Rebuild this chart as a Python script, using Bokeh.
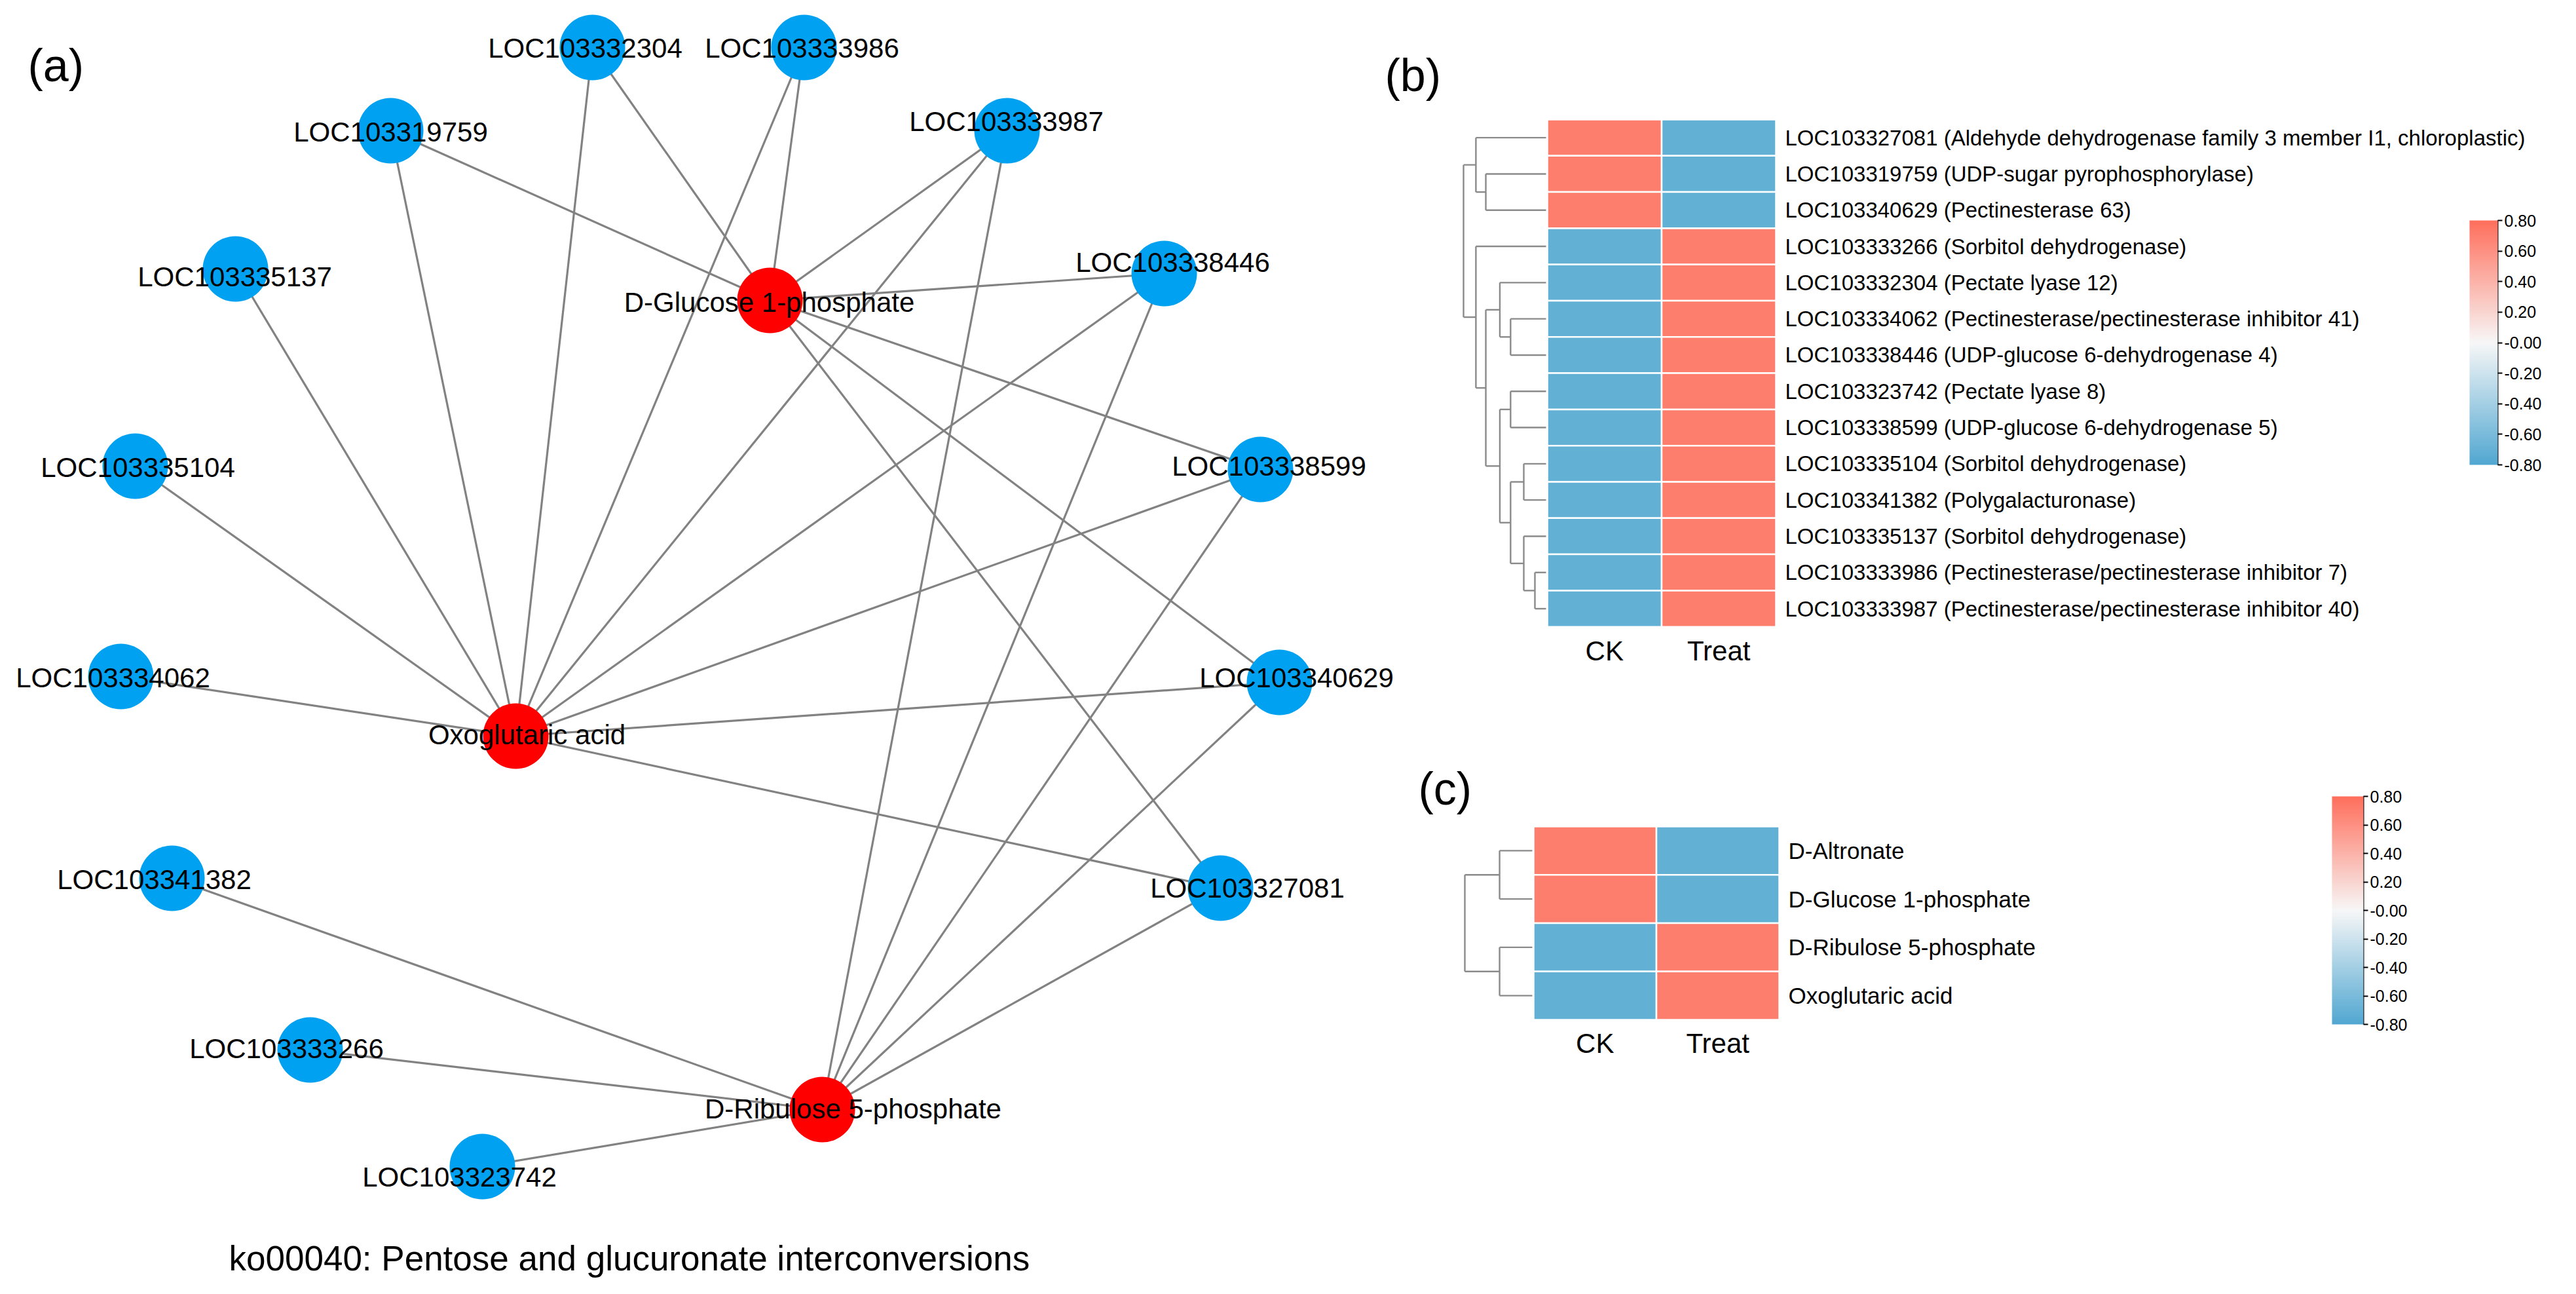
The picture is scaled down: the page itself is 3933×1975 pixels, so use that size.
from bokeh.plotting import figure
from bokeh.models import Range1d, LinearColorMapper, ColorBar, FixedTicker, PrintfTickFormatter, ColumnDataSource
from bokeh.core.properties import value
from bokeh.embed import file_html
from bokeh.resources import INLINE

FONT = "Liberation Sans"

# ---------------- data: network (a) ----------------
gene_names = ["LOC103332304", "LOC103333986", "LOC103319759", "LOC103333987",
              "LOC103335137", "LOC103338446", "LOC103335104", "LOC103338599",
              "LOC103334062", "LOC103340629", "LOC103341382", "LOC103327081",
              "LOC103333266", "LOC103323742"]
# network layout coordinates (layout units)
gene_x = [912, 1235, 604, 1545, 367, 1785, 214, 1932, 192, 1961, 270, 1871, 481, 744]
gene_y = [80, 80, 207, 207, 418, 425, 719, 724, 1040, 1049, 1348, 1363, 1610, 1788]
gene_label_dx = [-11, -3, 0, -1, -1, 13, 4, 13, -12, 26, -27, 41, -36, -35]
gene_label_dy = [1, 1, 2, -14, 12, -17, 2, -5, 2, -7, 2, 0, -2, 16]

metab_names = ["D-Glucose 1-phosphate", "Oxoglutaric acid", "D-Ribulose 5-phosphate"]
metab_x = [1183, 795, 1263]
metab_y = [466, 1131, 1701]
metab_label_dx = [-1, 17, 47]
metab_label_dy = [3, -2, -1]

edge_metab = (["D-Glucose 1-phosphate"] * 8 + ["Oxoglutaric acid"] * 11 + ["D-Ribulose 5-phosphate"] * 8)
edge_gene = ["LOC103332304", "LOC103333986", "LOC103319759", "LOC103333987", "LOC103338446",
             "LOC103338599", "LOC103340629", "LOC103327081",
             "LOC103335137", "LOC103319759", "LOC103332304", "LOC103333986", "LOC103333987",
             "LOC103338446", "LOC103338599", "LOC103335104", "LOC103334062", "LOC103340629",
             "LOC103327081",
             "LOC103333987", "LOC103338446", "LOC103338599", "LOC103340629", "LOC103327081",
             "LOC103341382", "LOC103333266", "LOC103323742"]

network_title = "ko00040: Pentose and glucuronate interconversions"

# ---------------- data: heatmap (b) ----------------
b_rows = ["LOC103327081 (Aldehyde dehydrogenase family 3 member I1, chloroplastic)",
          "LOC103319759 (UDP-sugar pyrophosphorylase)",
          "LOC103340629 (Pectinesterase 63)",
          "LOC103333266 (Sorbitol dehydrogenase)",
          "LOC103332304 (Pectate lyase 12)",
          "LOC103334062 (Pectinesterase/pectinesterase inhibitor 41)",
          "LOC103338446 (UDP-glucose 6-dehydrogenase 4)",
          "LOC103323742 (Pectate lyase 8)",
          "LOC103338599 (UDP-glucose 6-dehydrogenase 5)",
          "LOC103335104 (Sorbitol dehydrogenase)",
          "LOC103341382 (Polygalacturonase)",
          "LOC103335137 (Sorbitol dehydrogenase)",
          "LOC103333986 (Pectinesterase/pectinesterase inhibitor 7)",
          "LOC103333987 (Pectinesterase/pectinesterase inhibitor 40)"]
b_ck = [0.71, 0.71, 0.71, -0.71, -0.71, -0.71, -0.71, -0.71, -0.71, -0.71, -0.71, -0.71, -0.71, -0.71]
b_treat = [-0.71, -0.71, -0.71, 0.71, 0.71, 0.71, 0.71, 0.71, 0.71, 0.71, 0.71, 0.71, 0.71, 0.71]
# row dendrogram: (child a, child b, height); leaves 0..13, merges numbered from 14
b_merges = [(12, 13, 0.135), (11, 14, 0.27), (9, 10, 0.27), (16, 15, 0.43), (7, 8, 0.43),
            (18, 17, 0.56), (5, 6, 0.43), (4, 20, 0.56), (21, 19, 0.73), (3, 22, 0.85),
            (1, 2, 0.73), (0, 24, 0.85), (25, 23, 1.0)]

# ---------------- data: heatmap (c) ----------------
c_rows = ["D-Altronate", "D-Glucose 1-phosphate", "D-Ribulose 5-phosphate", "Oxoglutaric acid"]
c_ck = [0.71, 0.71, -0.71, -0.71]
c_treat = [-0.71, -0.71, 0.71, 0.71]
c_merges = [(0, 1, 0.485), (2, 3, 0.485), (4, 5, 1.0)]

columns = ["CK", "Treat"]
cbar_ticks = [-0.8, -0.6, -0.4, -0.2, 0.0, 0.2, 0.4, 0.6, 0.8]

# ---------------- styles / layout ----------------
W, H = 3900, 1958          # figure size (page margin 8 px)
OX, OY = 8, 8              # figure origin on the page
BLUE_NODE = "#00A1F1"
RED_NODE = "#FF0000"
EDGE_COLOR = "#828282"
DEND_COLOR = "#8A8A8A"


def hexrgb(h):
    return tuple(int(h[i:i + 2], 16) for i in (1, 3, 5))


def ramp(c0, c1, c2, n=256):
    a, b, c = hexrgb(c0), hexrgb(c1), hexrgb(c2)
    out = []
    for i in range(n):
        t = i / (n - 1)
        if t <= 0.5:
            s, p0, q0 = t / 0.5, a, b
        else:
            s, p0, q0 = (t - 0.5) / 0.5, b, c
        out.append("#%02x%02x%02x" % tuple(round(p0[k] + (q0[k] - p0[k]) * s) for k in range(3)))
    return out


palette = ramp("#51A7D1", "#F7F7F7", "#FF6F5C")
mapper = LinearColorMapper(palette=palette, low=-0.8, high=0.8)

# one canvas; the network uses the default ranges, each heatmap its own extra ranges
p = figure(width=W, height=H, x_range=Range1d(OX, OX + W), y_range=Range1d(OY + H, OY),
           output_backend="svg", toolbar_location=None, min_border=0,
           x_axis_type=None, y_axis_type=None)
p.outline_line_color = None
p.grid.visible = False
p.background_fill_color = "white"
p.border_fill_color = "white"


def add_text(x, y, txt, size, align="left", baseline="middle", **kw):
    p.text(x, y, text=txt, text_font=value(FONT), text_font_size=size, text_color="black",
           text_align=align, text_baseline=baseline, **kw)


# ---------------- network ----------------
pos = {n: (x, y) for n, x, y in zip(gene_names, gene_x, gene_y)}
pos.update({n: (x, y) for n, x, y in zip(metab_names, metab_x, metab_y)})
esrc = ColumnDataSource(dict(
    x0=[pos[m][0] for m in edge_metab], y0=[pos[m][1] for m in edge_metab],
    x1=[pos[g][0] for g in edge_gene], y1=[pos[g][1] for g in edge_gene]))
p.segment("x0", "y0", "x1", "y1", source=esrc, line_color=EDGE_COLOR, line_width=3.2)
p.circle(gene_x, gene_y, radius=50, fill_color=BLUE_NODE, line_color=None)
p.circle(metab_x, metab_y, radius=50, fill_color=RED_NODE, line_color=None)
add_text([x + d for x, d in zip(gene_x, gene_label_dx)], [y + d for y, d in zip(gene_y, gene_label_dy)],
         gene_names, "42px", align="center")
add_text([x + d for x, d in zip(metab_x, metab_label_dx)], [y + d for y, d in zip(metab_y, metab_label_dy)],
         metab_names, "42px", align="center")
add_text([50], [107], ["(a)"], "70px")
add_text([357], [1928], [network_title], "53px")


# ---------------- heatmaps ----------------
def heatmap_panel(name, heat_left, heat_top, cell_w, cell_h, rows, ck, treat, merges,
                  dend_px, label_font, col_label_dy, cbar_box, cbar_w, cbar_h, panel_label):
    # data units of this panel: one cell = 1 x 1, rows counted downward
    xr, yr = name + "x", name + "y"
    p.extra_x_ranges[xr] = Range1d((OX - heat_left) / cell_w, (OX + W - heat_left) / cell_w)
    p.extra_y_ranges[yr] = Range1d((OY + H - heat_top) / cell_h, (OY - heat_top) / cell_h)
    kw = dict(x_range_name=xr, y_range_name=yr)
    n = len(rows)
    xs, ys, vs = [], [], []
    for i in range(n):
        for j, vals in enumerate((ck, treat)):
            xs.append(j + 0.5)
            ys.append(i + 0.5)
            vs.append(vals[i])
    src = ColumnDataSource(dict(x=xs, y=ys, v=vs))
    p.rect("x", "y", width=1, height=1, source=src,
           fill_color={"field": "v", "transform": mapper}, line_color="white", line_width=2.5, **kw)
    add_text([2.0 + 14 / cell_w] * n, [i + 0.5 for i in range(n)], rows, label_font, **kw)
    lab_y = n + col_label_dy
    add_text([0.5, 1.5], [lab_y, lab_y], columns, "42px", align="center", **kw)
    # row dendrogram
    gap = 2 / cell_w
    dw = dend_px / cell_w
    ps = {i: i + 0.5 for i in range(n)}
    hh = {i: 0.0 for i in range(n)}
    sx0, sy0, sx1, sy1 = [], [], [], []
    for k, (a, b, h) in enumerate(merges):
        for (u0, v0, u1, v1) in ((h, ps[a], h, ps[b]), (h, ps[a], hh[a], ps[a]), (h, ps[b], hh[b], ps[b])):
            sx0.append(-gap - u0 * dw); sy0.append(v0)
            sx1.append(-gap - u1 * dw); sy1.append(v1)
        ps[n + k] = (ps[a] + ps[b]) / 2
        hh[n + k] = h
    p.segment(sx0, sy0, sx1, sy1, line_color=DEND_COLOR, line_width=2.4, **kw)
    # colour bar
    bl, bt = cbar_box
    cb = ColorBar(color_mapper=mapper, ticker=FixedTicker(ticks=cbar_ticks),
                  formatter=PrintfTickFormatter(format="%.2f"),
                  major_label_overrides={0: "-0.00"},
                  width=cbar_w, height=cbar_h, padding=0, margin=0,
                  location=(bl - OX, OY + H - (bt + cbar_h)),
                  major_tick_in=0, major_tick_out=7, major_tick_line_color="black",
                  major_tick_line_width=2, minor_tick_line_color=None,
                  bar_line_color=None, border_line_color=None, background_fill_color=None,
                  major_label_text_font=FONT, major_label_text_font_size="25px",
                  major_label_text_color="black", label_standoff=3)
    p.add_layout(cb, "center")
    ax = (bl + cbar_w - heat_left) / cell_w
    p.segment([ax], [(bt - heat_top) / cell_h], [ax], [(bt + cbar_h - heat_top) / cell_h],
              line_color="black", line_width=2, **kw)
    txt, lx, ly = panel_label
    add_text([(lx - heat_left) / cell_w], [(ly - heat_top) / cell_h], [txt], "70px", **kw)


heatmap_panel("b", 2370, 190, 174.5, 55.3, b_rows, b_ck, b_treat, b_merges, 126, "33px", 0.67,
              (3778, 344), 43, 373, ("(b)", 2122, 122))
heatmap_panel("c", 2349, 1269, 187.5, 73.75, c_rows, c_ck, c_treat, c_merges, 103, "35px", 0.485,
              (3568, 1223), 48, 348, ("(c)", 2173, 1211))

open("out.html", "w").write(file_html(p, INLINE))
